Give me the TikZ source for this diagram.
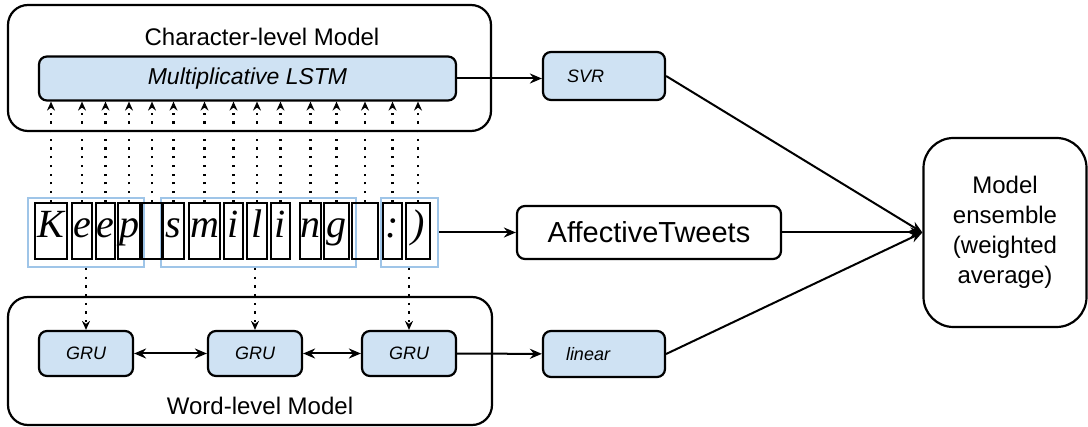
\documentclass[tikz,border=0pt]{standalone}
\usepackage{fontspec}
\setmainfont{Liberation Sans}
\newfontfamily\serifit{Liberation Serif}
\usetikzlibrary{arrows.meta}
\definecolor{boxfill}{RGB}{207,226,243}
\definecolor{grpline}{RGB}{159,197,232}
\begin{document}
\begin{tikzpicture}[x=1pt,y=-1pt,
  outer/.style={draw,line width=2.2pt,rounded corners=20pt,inner sep=0},
  bluebox/.style={draw,fill=boxfill,line width=2.2pt,rounded corners=8pt,inner sep=0,font=\fontsize{18}{21}\selectfont\itshape},
  chr/.style={draw,line width=2.2pt,inner sep=0,minimum height=56pt,text height=20pt,text depth=6pt,font=\serifit\fontsize{40}{40}\selectfont\itshape},
  grp/.style={draw=grpline,line width=2pt,inner sep=0,minimum height=69pt},
  arr/.style={line width=2pt,-{Stealth[length=12pt,width=10pt,inset=4pt]}},
  biarr/.style={line width=2pt,{Stealth[length=12pt,width=10pt,inset=4pt]}-{Stealth[length=12pt,width=10pt,inset=4pt]}},
  dotarr/.style={line width=2.2pt,dash pattern=on 2.2pt off 6.5pt,-{Stealth[length=9pt,width=8pt,inset=3pt]}},
  title/.style={font=\fontsize{24}{28}\selectfont,inner sep=0},
]
\useasboundingbox (0,0) rectangle (1088,427);

% outer model boxes
\node[outer,minimum width=483pt,minimum height=126pt] (charbox) at (249.5,68) {};
\node[outer,minimum width=484pt,minimum height=128pt] (wordbox) at (250,361) {};
\node[title] (chartitle) at (262,37) {Character-level Model};
\node[title] (wordtitle) at (260,406) {Word-level Model};

% LSTM
\node[bluebox,minimum width=417pt,minimum height=44pt,font=\fontsize{23}{26}\selectfont\itshape] (lstm) at (247.5,78.5) {Multiplicative LSTM};

% word groups
\node[grp,minimum width=116pt] (g1) at (86,232.5) {};
\node[grp,minimum width=195pt] (g2) at (258.5,232.5) {};
\node[grp,minimum width=57pt] (g3) at (409.5,232.5) {};

% characters
\foreach \i/\x/\w/\t in {1/51/32/K,2/82/20/e,3/105.5/19/e,4/129/22/p,5/152/20/{},6/173.5/21/s,7/204.5/31/m,8/233.5/19/i,9/257/20/l,10/280.5/19/i,11/310.5/21/n,12/336.5/25/g,13/365/26/{},14/392.5/19/:,15/418/24/)}{
  \node[chr,minimum width=\w pt] (c\i) at (\x,231) {\t};
}
\foreach \i in {1,...,15}{
  \draw[dotarr] (c\i.north) -- (c\i.north |- lstm.south);
}

% GRUs
\node[bluebox,minimum width=94pt,minimum height=45pt] (gru1) at (86,353.5) {GRU};
\node[bluebox,minimum width=94pt,minimum height=45pt] (gru2) at (255,353.5) {GRU};
\node[bluebox,minimum width=94pt,minimum height=45pt] (gru3) at (409,353.5) {GRU};
\draw[dotarr] (g1.south -| gru1.north) -- (gru1.north);
\draw[dotarr] (g2.south -| gru2.north) -- (gru2.north);
\draw[dotarr] (g3.south -| gru3.north) -- (gru3.north);
\draw[biarr] (gru1) -- (gru2);
\draw[biarr] (gru2) -- (gru3);

% right side
\node[bluebox,minimum width=122pt,minimum height=48pt,inner xsep=24pt,text width=74pt,align=left] (svr) at (604,76) {SVR};
\node[bluebox,minimum width=122pt,minimum height=46pt,inner xsep=23pt,text width=76pt,align=left] (linear) at (604,354) {linear};
\node[draw,line width=2.2pt,rounded corners=8pt,inner sep=0,minimum width=264pt,minimum height=53pt,font=\fontsize{29}{32}\selectfont] (aff) at (649,232.5) {AffectiveTweets};
\node[draw,line width=2.2pt,rounded corners=30pt,inner sep=0,minimum width=163pt,minimum height=189pt,align=center,font=\fontsize{24}{30}\selectfont] (ens) at (1005,232.5) {Model\\ensemble\\(weighted\\average)};

\draw[arr] (lstm.east) -- (lstm.east -| svr.west);
\draw[arr] (gru3) -- (linear);
\draw[arr] (g3.east) -- (aff.west);
\draw[arr] (svr.east) -- (ens.west);
\draw[arr] (aff.east) -- (ens.west);
\draw[arr] (linear.east) -- (ens.west);
\end{tikzpicture}
\end{document}
